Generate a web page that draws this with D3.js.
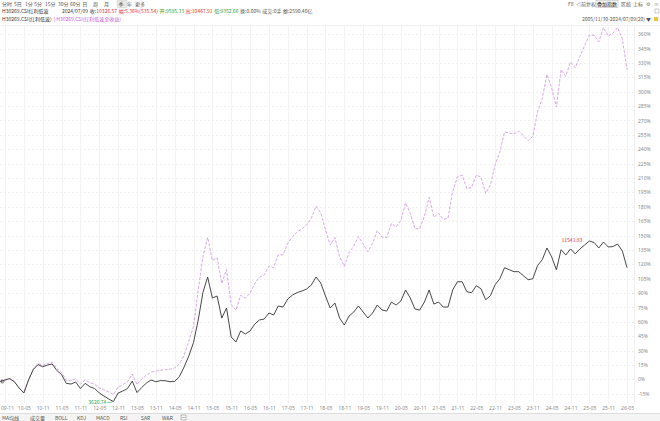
<!DOCTYPE html>
<html><head><meta charset="utf-8">
<script src="https://cdn.jsdelivr.net/npm/d3@7"></script>
<style>
html,body{margin:0;padding:0;background:#fff;}
svg{display:block;font-family:"Noto Sans CJK SC","Noto Sans",sans-serif;}
</style></head>
<body>
<svg id="c" width="660" height="421"></svg>
<script>
// ---------- data ----------
const xLabels = ["09-11","10-05","10-11","11-05","11-11","12-05","12-11","13-05","13-11","14-05","14-11","15-05","15-11","16-05","16-11","17-05","17-11","18-05","18-11","19-05","19-11","20-05","20-11","21-05","21-11","22-05","22-11","23-05","23-11","24-05","24-11","25-05","25-11","26-05"];
const yTicks = [-15,0,15,30,45,60,75,90,105,120,135,150,165,180,195,210,225,240,255,270,285,300,315,330,345,360];
// price index (%), black line
const pricePct = [-2.3,-0.7,0.8,-2.6,-9.1,-14.3,-0.7,10.2,15.4,13.1,14.9,16.0,9.2,5.0,-4.2,-4.9,-2.8,-9.6,-4.2,-7.7,
 -9.6,-14.1,-17.4,-20.5,-23.2,-14.3,-12.2,-9.6,-1.8,-13.8,-8.6,-3.9,-0.7,-2.5,-1.3,-1.5,-2.5,-2.1,2.9,12.8,
 24.3,38.4,61.9,90.5,106.7,84.8,86.9,63.9,74.4,44.1,38.9,50.4,47.3,50.4,57.7,61.9,62.9,69.2,67.1,76.5,
 75.4,83.8,87.9,90.5,92.1,94.2,98.4,106.7,100.5,86.9,74.4,79.6,63.9,56.6,66.0,70.2,76.5,70.2,63.9,69.2,
 77.5,72.3,71.2,80.6,77.5,81.7,93.2,84.8,73.3,72.3,80.6,93.2,78.5,80.6,75.4,75.4,93.2,101.8,101.8,91.4,
 90.3,97.6,94.5,83.0,87.2,98.7,104.9,116.4,114.3,112.3,112.3,108.1,103.9,104.9,118.5,124.8,137.0,127.7,114.3,135.2,
 129.7,136.0,130.8,136.0,140.1,144.3,142.7,137.0,143.2,138.0,138.5,141.1,133.8,116.4];
// total return index (%), violet dashed line
const totalPct = [-2.3,-0.7,0.8,-2.4,-8.8,-13.8,0,11,16.5,14.5,16.5,18,11.5,7.5,-1,-1.5,0.5,-5,-0.5,-3.5,
 -5,-9,-11,-13,-16,-8,-5.5,-2.5,5.5,-5.5,0,4.5,7.5,8.5,9.5,10,10.5,12,16,25,
 40,55,92.7,128,148,124,127,100,114.5,78,72,87.6,84.7,89.7,100,106.4,108.8,118,116.6,130,
 129.8,142,148.8,153.6,157,161,168,180.7,173.5,156,140,148,127.5,118,132,139,149,141,133,142,
 155,148.5,148,162.6,159,166,184,173,157,157,170,190,169,173,167,168,196,211,213,199,
 200,213,211,194,203,224,237,258,257,256,259,254,249,253.5,279,293,318,304,284,323,
 316,331,325,337,348,359,359,352,367,358,361,367,355,323];
const maxLabel = "11541.93", minLabel = "3626.74";
const periods = ["分时","5日","1分","5分","15分","30分","60分","日","周","月","季","年","更多"];
const indicators = ["MA均线","成交量","BOLL","KDJ","MACD","RSI","SAR","W&R"];

// ---------- layout ----------
const svg = d3.select("#c");
const N = pricePct.length;
const x = d3.scaleLinear().domain([0, N-1]).range([0.3, 0.3 + (N-1)*4.7125]);
const y = d3.scaleLinear().domain([-15, 360]).range([393.7, 34.2]);
const plotTop = 25, plotBottom = 403, plotRight = 634;
const fs = "5px";

// grid
const g = svg.append("g");
g.selectAll("line.h").data(yTicks).join("line")
 .attr("x1",0).attr("x2",plotRight).attr("y1",d=>Math.round(y(d))+0.5).attr("y2",d=>Math.round(y(d))+0.5)
 .attr("stroke","#efefef").attr("stroke-width",1).attr("stroke-dasharray","2,2");
g.selectAll("line.v").data(xLabels).join("line")
 .attr("x1",(d,i)=>Math.round(x(1+4*i))+0.5).attr("x2",(d,i)=>Math.round(x(1+4*i))+0.5)
 .attr("y1",plotTop).attr("y2",plotBottom)
 .attr("stroke","#f3f3f3").attr("stroke-width",1);
g.append("line").attr("x1",0).attr("x2",660).attr("y1",plotTop+0.5).attr("y2",plotTop+0.5).attr("stroke","#f0f0f0");
g.append("line").attr("x1",plotRight+0.5).attr("x2",plotRight+0.5).attr("y1",plotTop).attr("y2",plotBottom).attr("stroke","#f0f0f0");

// y axis labels
const yAxis = d3.axisRight(y).tickValues(yTicks).tickFormat(d=>d+"%").tickSize(0).tickPadding(0);
const ya = svg.append("g").attr("transform","translate(638,0)").call(yAxis);
ya.select(".domain").remove();
ya.selectAll("text").attr("fill","#8a8a8a").style("font-size",fs).attr("font-family","Noto Sans, sans-serif");

// x axis labels
const xAxis = d3.axisBottom(x).tickValues(xLabels.map((d,i)=>1+4*i)).tickFormat((d,i)=>xLabels[i]).tickSize(0).tickPadding(0);
const xa = svg.append("g").attr("transform","translate(0,406)").call(xAxis);
xa.select(".domain").remove();
xa.selectAll("text").attr("fill","#8a8a8a").style("font-size",fs).attr("font-family","Noto Sans, sans-serif");
xa.selectAll("text").filter((d,i)=>i===0).attr("text-anchor","start").attr("x",-4.5);

// lines
const line = d3.line().x((d,i)=>x(i)).y(d=>y(d));
svg.append("path").datum(totalPct).attr("d",line).attr("fill","none")
 .attr("stroke","#d49ce3").attr("stroke-width",0.9).attr("stroke-dasharray","3,1.5");
svg.append("path").datum(pricePct).attr("d",line).attr("fill","none")
 .attr("stroke","#333").attr("stroke-width",0.9);

// start marker
svg.append("circle").attr("cx",x(0)+2).attr("cy",y(pricePct[0])).attr("r",1.5).attr("fill","none").attr("stroke","#333").attr("stroke-width",0.7);

// max / min labels
const iMax = d3.maxIndex(pricePct), iMin = d3.minIndex(pricePct);
svg.append("text").attr("x",x(iMax)-7).attr("y",y(pricePct[iMax])+1).attr("text-anchor","end")
 .attr("fill","#e03030").style("font-size",fs).text(maxLabel);
svg.append("line").attr("x1",x(iMin)-6).attr("x2",x(iMin)-1).attr("y1",y(pricePct[iMin])+1).attr("y2",y(pricePct[iMin])+0.5).attr("stroke","#2a9d3a").attr("stroke-width",0.6);
svg.append("text").attr("x",x(iMin)-7).attr("y",y(pricePct[iMin])+2.5).attr("text-anchor","end")
 .attr("fill","#2a9d3a").style("font-size",fs).text(minLabel);

// ---------- header ----------
const hdr = svg.append("g").style("font-size",fs);
// place texts left-to-right at preferred x, never overlapping
function row(items, yy){
 let end = -1;
 items.forEach(r=>{
  const xx = Math.max(r.x, end + (r.gap||1.5));
  if(r.box){hdr.append("rect").attr("x",xx-1).attr("y",yy-5.5).attr("width",10).attr("height",7).attr("fill","#e8e8e8").attr("stroke","#ccc").attr("stroke-width",0.5);}
  const t = hdr.append("text").attr("x",xx).attr("y",yy).attr("fill",r.c||"#555").text(r.t);
  if(r.box){ t.attr("x",xx+0.5); }
  end = xx + t.node().getComputedTextLength();
 });
}
const px = [2,14,25,34,45,58,70,82,93,104,118,127,135];
row(periods.map((p,i)=>({t:p,x:px[i],c:"#555",box:p==="季"})), 6);
row([
 {t:"H30269.CSI红利低波",x:2,c:"#333"},
 {t:"2024/07/09",x:62,c:"#333"},
 {t:"收:",x:86,c:"#333"},{t:"10326.57",x:0,c:"#e03030",gap:0.3},
 {t:"幅:5.36%(535.54)",x:0,c:"#e03030"},
 {t:"开:9595.33",x:0,c:"#2a9d3a"},
 {t:"高:10467.91",x:0,c:"#e03030"},
 {t:"低:9352.66",x:0,c:"#2a9d3a"},
 {t:"换:0.00%",x:0,c:"#555"},
 {t:"成交:0手",x:0,c:"#555"},
 {t:"额:2590.40亿",x:0,c:"#555"}
], 13);
row([
 {t:"H30269.CSI(红利低波)",x:2,c:"#333"},
 {t:"| H30269.CSI(红利低波全收益)",x:0,c:"#c25bd6",gap:2}
], 21);

// right header
const rh = svg.append("g").style("font-size",fs);
rh.append("text").attr("x",568).attr("y",6).attr("fill","#555").text("F8");
rh.append("text").attr("x",576).attr("y",6).attr("fill","#555").text("◁前复权");
rh.append("rect").attr("x",596).attr("y",0.5).attr("width",22).attr("height",7).attr("fill","#f2f2f2").attr("stroke","#bbb").attr("stroke-width",0.5);
rh.append("text").attr("x",597).attr("y",6).attr("fill","#222").text("叠加指数");
rh.append("text").attr("x",621).attr("y",6).attr("fill","#555").text("区统");
rh.append("text").attr("x",633).attr("y",6).attr("fill","#555").text("上标");
rh.append("text").attr("x",646).attr("y",6).attr("fill","#777").text("⚙");
rh.append("text").attr("x",654).attr("y",6).attr("fill","#777").text("≡");
rh.append("rect").attr("x",655).attr("y",9).attr("width",4).attr("height",4).attr("fill","none").attr("stroke","#999").attr("stroke-width",0.5);
rh.append("text").attr("x",651).attr("y",21).attr("text-anchor","end").attr("fill","#555").text("2005/11/30-2024/07/09(20) ▼");
rh.append("rect").attr("x",654).attr("y",17).attr("width",4).attr("height",4).attr("fill","#f0c040");

// ---------- bottom toolbar ----------
svg.append("rect").attr("x",0).attr("y",413).attr("width",660).attr("height",8).attr("fill","#f4f4f4");
svg.append("line").attr("x1",0).attr("x2",660).attr("y1",413.5).attr("y2",413.5).attr("stroke","#ddd");
const ix = [2,30,55,77,96,120,141,162];
indicators.forEach((t,i)=>svg.append("text").attr("x",ix[i]).attr("y",419.5).attr("fill","#555").style("font-size",fs).text(t));
svg.append("rect").attr("x",181).attr("y",415).attr("width",5).attr("height",5).attr("fill","none").attr("stroke","#888").attr("stroke-width",0.5);
svg.append("line").attr("x1",182).attr("x2",185).attr("y1",417.5).attr("y2",417.5).attr("stroke","#888").attr("stroke-width",0.5);
</script>
</body></html>
